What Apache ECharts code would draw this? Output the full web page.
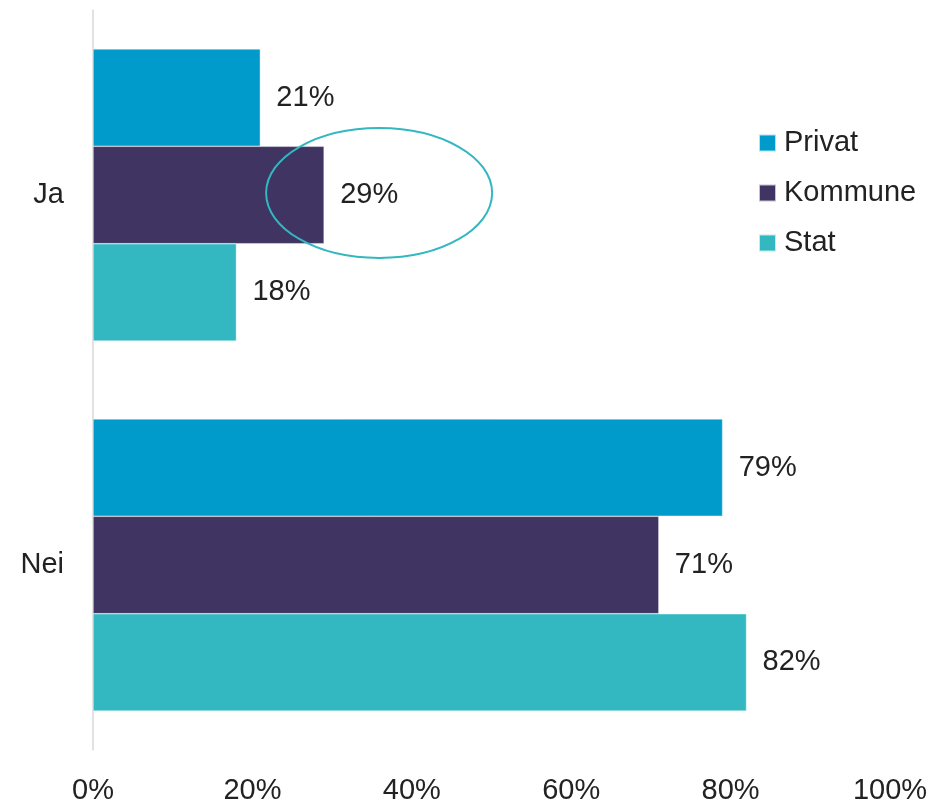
<!DOCTYPE html>
<html>
<head>
<meta charset="utf-8">
<script src="https://cdn.jsdelivr.net/npm/echarts@6/dist/echarts.min.js"></script>
<style>
  html, body { margin: 0; padding: 0; background: #fff; }
  #chart { width: 932px; height: 805px; }
</style>
</head>
<body>
<div id="chart"></div>
<script>
// Answer categories (top to bottom)
const categories = ['Ja', 'Nei'];
// Sector series, share in percent
const seriesNames = ['Privat', 'Kommune', 'Stat'];
const privat = [21, 79];
const kommune = [29, 71];
const stat = [18, 82];
// Percent axis ticks
const xTicks = [0, 20, 40, 60, 80, 100];

const colors = ['#009BCB', '#3F3462', '#33B7C0'];
const textColor = '#222222';
const fontFamily = '"Liberation Sans", Arial, sans-serif';

const chart = echarts.init(document.getElementById('chart'), null, { renderer: 'canvas' });

function barSeries(name, data, color) {
  return {
    name: name,
    type: 'bar',
    data: data,
    barGap: '0%',
    barCategoryGap: '21%',
    itemStyle: { color: color, borderColor: 'rgba(255,255,255,0.7)', borderWidth: 0.6 },
    label: {
      show: true,
      position: 'right',
      distance: 16,
      formatter: '{c}%',
      color: textColor,
      fontSize: 29,
      fontFamily: fontFamily,
      padding: [3, 0, 0, 0]
    },
    emphasis: { disabled: true },
    animation: false
  };
}

const option = {
  animation: false,
  color: colors,
  grid: { left: 93, right: 42, top: 10, bottom: 53, containLabel: false },
  legend: {
    orient: 'vertical',
    left: 758,
    top: 128,
    padding: 0,
    data: seriesNames,
    icon: 'rect',
    itemWidth: 17,
    itemHeight: 17,
    itemGap: 20,
    textStyle: { color: textColor, fontSize: 29, fontFamily: fontFamily, lineHeight: 30, padding: [0, 0, 0, 3] },
    selectedMode: false
  },
  xAxis: {
    type: 'value',
    min: xTicks[0],
    max: xTicks[xTicks.length - 1],
    interval: xTicks[1] - xTicks[0],
    axisLine: { show: false },
    axisTick: { show: false },
    splitLine: { show: false },
    axisLabel: {
      formatter: '{value}%',
      color: textColor,
      fontSize: 29,
      fontFamily: fontFamily,
      margin: 26
    }
  },
  yAxis: {
    type: 'category',
    data: categories,
    inverse: true,
    axisTick: { show: false },
    axisLine: { show: true, lineStyle: { color: '#D9D9D9', width: 1.5 } },
    axisLabel: {
      color: textColor,
      fontSize: 29,
      fontFamily: fontFamily,
      margin: 29
    }
  },
  series: [
    barSeries(seriesNames[0], privat, colors[0]),
    barSeries(seriesNames[1], kommune, colors[1]),
    barSeries(seriesNames[2], stat, colors[2])
  ]
};

chart.setOption(option);

// Highlight ring around the Kommune "Ja" value label
const ringCenter = chart.convertToPixel({ xAxisIndex: 0, yAxisIndex: 0 }, [kommune[0], categories[0]]);
chart.setOption({
  graphic: [{
    type: 'ellipse',
    shape: { cx: ringCenter[0] + 55, cy: ringCenter[1] - 2, rx: 113, ry: 65 },
    style: { fill: 'none', stroke: '#33B7C0', lineWidth: 2 },
    z: 10,
    silent: true
  }]
});
</script>
</body>
</html>
